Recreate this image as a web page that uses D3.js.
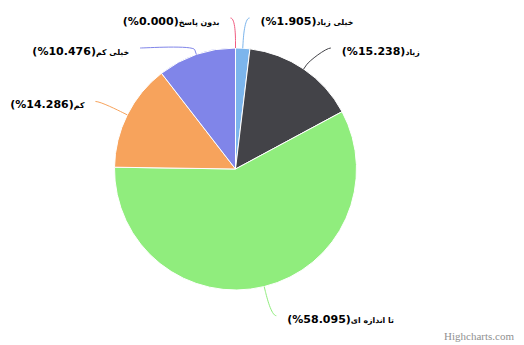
<!DOCTYPE html>
<html>
<head>
<meta charset="utf-8">
<script src="https://cdn.jsdelivr.net/npm/d3@7"></script>
<style>
  html, body { margin: 0; padding: 0; background: #fff; }
  svg { display: block; }
</style>
</head>
<body>
<svg id="chart" width="524" height="345"></svg>
<script>
// Survey answers and their share of responses (%)
const categories = ["خیلی زیاد", "زیاد", "تا اندازه ای", "کم", "خیلی کم", "بدون پاسخ"];
const percentages = [1.905, 15.238, 58.095, 14.286, 10.476, 0.000];
const colors = ["#7cb5ec", "#434348", "#90ed7d", "#f7a35c", "#8085e9", "#f15c80"];
const creditText = "Highcharts.com";

const width = 524, height = 345;
const cx = 235.5, cy = 169, radius = 121;
const labelDistance = 30;       // from pie edge to label ring
const connectorPadding = 5;
const slotHeight = 30;          // vertical spacing of label slots
const ringR = radius + labelDistance;

const svg = d3.select("#chart");

const data = categories.map((name, i) => ({ name, value: percentages[i], color: colors[i] }));

const pie = d3.pie().value(d => d.value).sort(null).startAngle(0).endAngle(2 * Math.PI);
const arcs = pie(data);

const arc = d3.arc().innerRadius(0).outerRadius(radius);

const g = svg.append("g").attr("transform", `translate(${cx},${cy})`);

// slices
g.selectAll("path.slice")
  .data(arcs)
  .join("path")
  .attr("class", "slice")
  .attr("d", arc)
  .attr("fill", d => d.data.color)
  .attr("stroke", "#ffffff")
  .attr("stroke-width", 1)
  .attr("stroke-linejoin", "round");

// label geometry
const pts = arcs.map(a => {
  const theta = (a.startAngle + a.endAngle) / 2;
  const dx = Math.sin(theta), dy = -Math.cos(theta);
  const left = theta > Math.PI;
  return {
    d: a.data,
    left,
    naturalY: cy + dy * ringR,
    base: [cx + dx * radius, cy + dy * radius],
    brk: [cx + dx * (radius + connectorPadding), cy + dy * (radius + connectorPadding)],
    ctl: [cx + dx * (radius + 2 * connectorPadding), cy + dy * (radius + 2 * connectorPadding)]
  };
});

function getX(y, left) {
  const s = Math.max(-1, Math.min(1, (y - cy) / ringR));
  return cx + (left ? -1 : 1) * Math.cos(Math.asin(s)) * ringR;
}

// put labels of each half into free slots, falling back to the natural height
[false, true].forEach(side => {
  const half = pts.filter(p => p.left === side).sort((a, b) => a.naturalY - b.naturalY);
  const top = Math.max(0, cy - ringR), bottom = Math.min(cy + ringR, height);
  const slots = [];
  for (let pos = top; pos <= bottom + 0.001; pos += slotHeight) slots.push(pos);
  const taken = slots.map(() => false);
  let minIdx = 0;
  half.forEach(p => {
    let best = -1, bestD = Infinity;
    for (let k = minIdx; k < slots.length; k++) {
      if (taken[k]) continue;
      const dist = Math.abs(slots[k] - p.naturalY);
      if (dist < bestD) { bestD = dist; best = k; }
    }
    taken[best] = true;
    p.slot = best;
    minIdx = best + 1;
  });
  half.forEach(p => {
    let y = slots[p.slot];
    if ((p.naturalY > y && p.slot + 1 < slots.length && !taken[p.slot + 1]) ||
        (p.naturalY < y && p.slot - 1 >= 0 && !taken[p.slot - 1])) {
      y = p.naturalY;
    }
    const atEdge = Math.abs(y - top) < 0.001 || Math.abs(y - bottom) < 0.001;
    p.x = getX(atEdge ? p.naturalY : y, p.left);
    p.y = y;
  });
});

// connectors
const lines = svg.append("g");
pts.forEach(p => {
  const sx = p.x + (p.left ? -connectorPadding : connectorPadding);
  const path = d3.path();
  path.moveTo(sx, p.y);
  path.bezierCurveTo(p.x, p.y, p.ctl[0], p.ctl[1], p.brk[0], p.brk[1]);
  path.lineTo(p.base[0], p.base[1]);
  lines.append("path")
    .attr("d", path.toString())
    .attr("fill", "none")
    .attr("stroke", p.d.color)
    .attr("stroke-width", 1);
});

// labels: Persian name followed by the percentage, laid out right-to-left
const labels = svg.append("g")
  .attr("font-family", "'DejaVu Sans', Verdana, sans-serif")
  .attr("font-size", 11)
  .attr("font-weight", "bold")
  .attr("fill", "#000000");

pts.forEach(p => {
  const t = labels.append("text")
    .attr("x", p.x + (p.left ? -1 : 1) * (connectorPadding + 11))
    .attr("y", p.y + 3)
    .attr("dy", "0.35em")
    .attr("direction", "rtl")
    .attr("unicode-bidi", "embed")
    .attr("text-anchor", p.left ? "start" : "end");
  t.append("tspan")
    .attr("font-size", 7.8)
    .text(p.d.name);
  t.append("tspan")
    .text("(" + p.d.value.toFixed(3) + "%)");
});

// credit
svg.append("text")
  .attr("x", width - 10)
  .attr("y", height - 5)
  .attr("text-anchor", "end")
  .attr("font-family", "'Liberation Serif', serif")
  .attr("font-size", 11)
  .attr("fill", "#909090")
  .text(creditText);
</script>
</body>
</html>
